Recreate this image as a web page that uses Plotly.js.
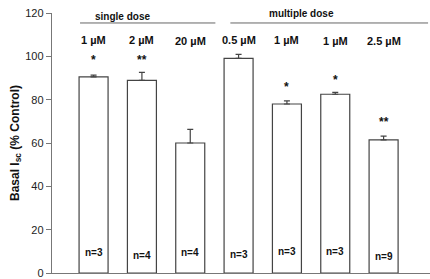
<!DOCTYPE html>
<html><head><meta charset="utf-8">
<script src="https://cdn.plot.ly/plotly-3.0.1.min.js"></script>
<style>html,body{margin:0;padding:0;background:#fff}#c{width:430px;height:279px}</style>
</head><body><div id="c"></div>
<script>
const doses = ["1 \u00b5M","2 \u00b5M","20 \u00b5M","0.5 \u00b5M","1 \u00b5M","1 \u00b5M","2.5 \u00b5M"];
const values = [90.5, 88.9, 60.0, 99.1, 78.0, 82.5, 61.4];
const errors = [0.8, 3.7, 6.3, 1.8, 1.4, 0.9, 1.8];
const stars = ["*","**","","","*","*","**"];
const nLabels = ["n=3","n=4","n=4","n=3","n=3","n=3","n=9"];
const groups = ["single dose","multiple dose"];

const xs = values.map((v,i)=>i);
const starY = [98.3, 98.3, null, null, 86, 89, 69.5];
const doseY = [107.5, 107.5, 107, 107.5, 107.5, 107, 107];
const nY = [9.5, 8.3, 9.5, 8.7, 9.7, 9.7, 7.5];

const ann = [];
doses.forEach((d,i)=>ann.push({x:i,y:doseY[i],xref:'x',yref:'y',text:d,showarrow:false,
  font:{family:'Liberation Sans, Arial',size:11,color:'#111',weight:'bold'}}));
stars.forEach((s,i)=>{ if(s) ann.push({x:i,y:starY[i],xref:'x',yref:'y',text:s,showarrow:false,
  font:{family:'Liberation Sans, Arial',size:12,color:'#111',weight:'bold'}});});
nLabels.forEach((s,i)=>ann.push({x:i,y:nY[i],xref:'x',yref:'y',text:s,showarrow:false,
  font:{family:'Liberation Sans, Arial',size:10,color:'#111',weight:'bold'}}));
ann.push({x:0.6,y:1.016,xref:'x',yref:'paper',text:groups[0],showarrow:false,
  font:{family:'Liberation Sans, Arial',size:10,color:'#111',weight:'bold'}});
ann.push({x:4.3,y:1.027,xref:'x',yref:'paper',text:groups[1],showarrow:false,
  font:{family:'Liberation Sans, Arial',size:10,color:'#111',weight:'bold'}});

const trace = {type:'bar',x:xs,y:values,width:0.6,
  marker:{color:'#fff',line:{color:'#444',width:1.2}},
  error_y:{type:'data',symmetric:false,array:errors,arrayminus:values.map(()=>0),
    color:'#444',thickness:1.2,width:3},
  hoverinfo:'none'};

const layout = {
  width:430,height:279,
  margin:{l:52,r:0,t:13,b:6},
  paper_bgcolor:'#fff',plot_bgcolor:'#fff',
  showlegend:false,
  xaxis:{range:[-0.86,6.96],showticklabels:false,ticks:'',showgrid:false,zeroline:false,
    showline:true,linecolor:'#777',linewidth:1.2,fixedrange:true},
  yaxis:{range:[0,120],tickvals:[0,20,40,60,80,100,120],ticks:'outside',ticklen:5,
    tickcolor:'#777',showgrid:false,zeroline:false,showline:true,linecolor:'#777',linewidth:1.2,
    tickfont:{family:'Liberation Sans, Arial',size:11,color:'#222'},
    title:{text:'<b>Basal I<sub>sc</sub> (% Control)</b>',standoff:3,
      font:{family:'Liberation Sans, Arial',size:12,color:'#111'}}},
  shapes:[
    {type:'line',xref:'x',yref:'y',x0:-0.28,x1:2.52,y0:115.4,y1:115.4,line:{color:'#666',width:1}},
    {type:'line',xref:'x',yref:'y',x0:2.83,x1:6.92,y0:115.4,y1:115.4,line:{color:'#666',width:1}}
  ],
  annotations:ann
};
Plotly.newPlot('c',[trace],layout,{displayModeBar:false,staticPlot:true});
</script></body></html>
